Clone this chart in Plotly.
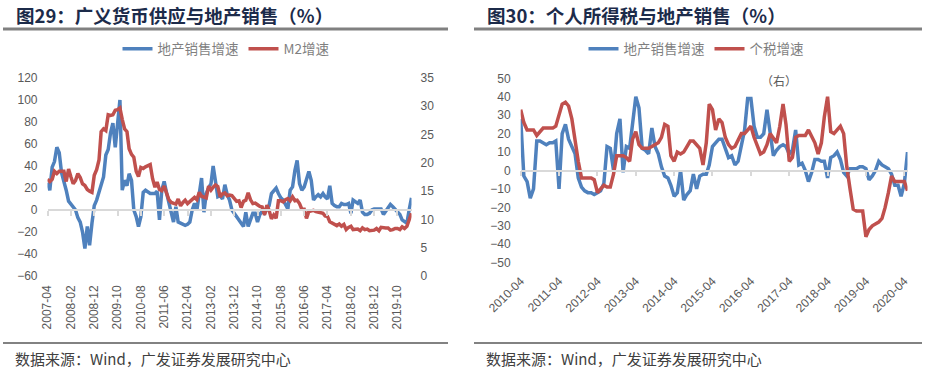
import pandas as pd
import plotly.graph_objects as go

W, H = 925, 371

# ---------------- data: left chart (2007-04 .. 2020-04, monthly) ----------------
left_dates = pd.date_range("2007-04-01", periods=157, freq="MS")
sales_growth_left = [
    25, 18, 39, 44, 57, 52, 34, 27, 18, 8, 5, 3,
    0, -7, -11, -20, -35, -15, -32, -12, 4, 9, 16, 22,
    30, 50, 55, 70, 79, 57, 82, 100, 18, 27, 22, 33,
    27, 0, -6, -15, -6, 16, 18, 16, 15, 15, 15, 17,
    -9, 18, 26, 16, 6, -3, -11, 3, -11, -12, -13, -14,
    -13, -11, 0, 6, 0, 15, 29, -2, 15, 20, 24, 40,
    28, 12, 13, 10, 23, 14, 9, 0, -3, -6, -8, -11,
    -15, -2, -15, -9, -3, -3, -11, -4, -1, -3, 1, 4,
    15, 18, 20, 15, 11, 9, 5, 1, 18, 21, 36, 45,
    24, 18, 21, 27, 35, 27, 9, 12, 14, 12, 15, 12,
    10, 22, 6, 4, 3, 3, 6, 5, 5, 6, -3, 9,
    7, 6, 9, -2, -4, -4, -3, 0, 1, 1, 1, 1,
    -4, -1, 3, 5, 3, 1, -1, -4, -9, -11, -12, 0,
    11,
]
m2_growth = [
    17.1, 16.7, 17.1, 18.5, 18.1, 18.5, 18.5, 18.5, 16.7,
    18.9, 17.5, 16.3, 16.9, 18.1, 17.4, 16.3, 16.0, 15.3, 15.0, 14.8, 17.8,
    18.8, 20.5, 25.5, 26.0, 25.7, 28.5, 28.4, 28.5, 29.3, 29.4, 29.7, 27.7,
    26.0, 25.5, 22.5, 21.5, 21.0, 18.5, 17.6, 19.2, 19.0, 19.3, 19.5, 19.7,
    17.2, 15.7, 16.6, 15.3, 15.1, 15.9, 14.7, 13.5, 13.0, 12.9, 12.7, 13.6,
    12.4, 13.0, 13.4, 12.8, 13.2, 13.6, 13.9, 13.5, 14.8, 14.1, 13.9, 13.8,
    15.9, 15.2, 15.7, 16.1, 15.8, 14.0, 14.5, 14.7, 14.2, 14.3, 14.2, 13.6,
    13.2, 13.3, 12.1, 13.2, 13.4, 14.7, 13.5, 12.8, 12.9, 12.6, 12.3, 12.2,
    10.8, 12.5, 11.6, 10.1, 10.8, 10.2, 13.3, 13.3, 13.1, 13.5, 13.7, 13.3,
    14.0, 13.3, 13.4, 12.8, 11.8, 11.8, 10.2, 11.4, 11.5, 11.6, 11.4, 11.3,
    11.3, 11.1, 10.6, 10.5, 9.6, 9.4, 9.2, 8.9, 9.2, 8.8, 9.1, 8.2,
    8.6, 8.8, 8.2, 8.3, 8.3, 8.0, 8.5, 8.2, 8.3, 8.0, 8.0, 8.1,
    8.4, 8.0, 8.6, 8.5, 8.5, 8.5, 8.1, 8.2, 8.4, 8.4, 8.2, 8.7,
    8.4, 8.8, 10.1, 11.1,
]

# ---------------- data: right chart (2010-04 .. 2020-05, monthly) ----------------
right_dates = pd.date_range("2010-04-01", periods=122, freq="MS")
sales_growth_right = [
    28, -3, -6, -15, -10, 16, 16, 15, 14, 15, 15, 16,
    -10, 20, 25, 17, 13, 9, -4, -9, -11, -12, -12, -13,
    -12, -11, -7, 13, 12, 0, 20, 28, -1, 13, 12, 24,
    40, 34, 12, 11, 9, 23, 13, 9, 2, -3, -4, -8,
    -14, -12, 0, -16, -13, -11, -2, -10, -3, -2, -2, 3,
    13, 15, 17, 17, 12, 7, 8, 3, 5, 13, 22, 39,
    39, 24, 18, 18, 20, 33, 20, 8, 11, 13, 14, 13,
    9, 11, 22, 3, 4, 0, -6, -1, 6, 6, 5, 5,
    -4, 7, 8, 10, 6, -1, -3, 1, 1, 1, 2, 2,
    1, -5, -3, 0, 5, 3, 2, 1, -2, -8, -8, -14,
    -7, 10,
]
income_tax_growth = [
    33, 26, 22, 22, 22, 19, 21, 23, 23, 23, 23, 24,
    31, 36, 37, 35, 28, 16, 5, -4, -4, -4, -4, -5,
    -12, -10, -8, -9, -9, -2, 8, 8, 8, 7, 5, 17,
    21, 14, 12, 12, 12, 13, 14, 15, 18, 25, 24, 8,
    5, 10, 9, 10, 13, 16, 16, 14, 12, 3, 15, 36,
    33, 22, 28, 26, 18, 14, 12, 13, 16, 20, 20, 22,
    24, 18, 14, 9, 10, 14, 20, 17, 15, 24, 36, 25,
    5, 7, 18, 19, 19, 19, 22, 18, 15, 9, 15, 29,
    40, 21, 20, 22, 24, 20, 2, -10, -21, -22, -22, -22,
    -36, -32, -30, -29, -28, -26, -20, -12, -3, -6, -6, -6,
    -6, -11,
]

# ---------------- text ----------------
title_left = "图29：广义货币供应与地产销售（%）"
title_right = "图30：个人所得税与地产销售（%）"
source_text = "数据来源：Wind，广发证券发展研究中心"
name_sales = "地产销售增速"
name_m2 = "M2增速"
name_tax = "个税增速"
note_right = "（右）"

BLUE = "#4F81BD"
RED = "#C0504D"
TICK_FONT = dict(family="Liberation Sans, Arial, sans-serif", size=12, color="#595959")
CJK = "Noto Sans CJK SC"


def px_x(p):
    return p / W


def px_y(p):
    return 1 - p / H


fig = go.Figure()

# left chart
fig.add_trace(go.Scatter(x=left_dates, y=sales_growth_left, name=name_sales, mode="lines",
                         line=dict(color=BLUE, width=3.5), xaxis="x", yaxis="y", legend="legend"))
fig.add_trace(go.Scatter(x=left_dates, y=m2_growth, name=name_m2, mode="lines",
                         line=dict(color=RED, width=3.5), xaxis="x", yaxis="y2", legend="legend"))
# invisible helper so the zero-line axis with tick marks is drawn
fig.add_trace(go.Scatter(x=left_dates, y=m2_growth, mode="lines", line=dict(width=0),
                         opacity=0, showlegend=False, hoverinfo="skip", xaxis="x3", yaxis="y2"))

# right chart
fig.add_trace(go.Scatter(x=right_dates, y=sales_growth_right, name=name_sales, mode="lines",
                         line=dict(color=BLUE, width=3.5), xaxis="x2", yaxis="y3", legend="legend2"))
fig.add_trace(go.Scatter(x=right_dates, y=income_tax_growth, name=name_tax, mode="lines",
                         line=dict(color=RED, width=3.5), xaxis="x2", yaxis="y3", legend="legend2"))
fig.add_trace(go.Scatter(x=right_dates, y=income_tax_growth, mode="lines", line=dict(width=0),
                         opacity=0, showlegend=False, hoverinfo="skip", xaxis="x4", yaxis="y3"))

left_dom_x = [px_x(47.5), px_x(411.5)]
left_dom_y = [px_y(276), px_y(78)]
right_dom_x = [px_x(520.7), px_x(907.5)]
right_dom_y = [px_y(262.7), px_y(78.3)]

left_range = ["2007-04-01", "2020-04-01"]
right_range = ["2010-04-01", "2020-05-01"]

common = dict(automargin=False, showgrid=False, zeroline=False)

fig.update_layout(
    template="none",
    width=W, height=H,
    margin=dict(l=0, r=0, t=0, b=0, autoexpand=False),
    paper_bgcolor="white", plot_bgcolor="rgba(0,0,0,0)",
    showlegend=True,
    xaxis=dict(domain=left_dom_x, anchor="y", range=left_range, type="date",
               tick0="2007-04-01", dtick="M10", tickformat="%Y-%m", tickangle=-90,
               showline=False, ticks="", tickfont=TICK_FONT, ticklabelstandoff=6, **common),
    xaxis3=dict(overlaying="x", anchor="free", position=px_y(210), range=left_range, type="date",
                tick0="2007-04-01", dtick="M10", showticklabels=False,
                showline=True, linecolor="#D9D9D9", linewidth=1.5,
                ticks="outside", ticklen=5, tickcolor="#D9D9D9", tickwidth=1.5, **common),
    yaxis=dict(domain=left_dom_y, anchor="x", range=[-60, 120], dtick=20,
               showline=False, ticks="", tickfont=TICK_FONT, ticklabelstandoff=9, **common),
    yaxis2=dict(overlaying="y", side="right", anchor="x", range=[0, 35], dtick=5,
                showline=False, ticks="", tickfont=TICK_FONT, ticklabelstandoff=8, **common),
    xaxis2=dict(domain=right_dom_x, anchor="y3", range=right_range, type="date",
                tick0="2010-04-01", dtick="M12", tickformat="%Y-%m", tickangle=-45,
                showline=False, ticks="", tickfont=TICK_FONT, ticklabelstandoff=8, **common),
    xaxis4=dict(overlaying="x2", anchor="free", position=px_y(170.5), range=right_range, type="date",
                tick0="2010-04-01", dtick="M12", showticklabels=False,
                showline=True, linecolor="#D9D9D9", linewidth=1.5,
                ticks="outside", ticklen=5, tickcolor="#D9D9D9", tickwidth=1.5, **common),
    yaxis3=dict(domain=right_dom_y, anchor="x2", range=[-50, 50], dtick=10,
                showline=False, ticks="", tickfont=TICK_FONT, ticklabelstandoff=9, **common),
    legend=dict(orientation="h", x=px_x(226), y=px_y(49), xanchor="center", yanchor="middle",
                font=dict(family=CJK, size=13.5, color="#7F7F7F"), bgcolor="rgba(0,0,0,0)",
                borderwidth=0, itemwidth=30, tracegroupgap=0),
    legend2=dict(orientation="h", x=px_x(696), y=px_y(49), xanchor="center", yanchor="middle",
                 font=dict(family=CJK, size=13.5, color="#7F7F7F"), bgcolor="rgba(0,0,0,0)",
                 borderwidth=0, itemwidth=30, tracegroupgap=0),
)

# titles, separators, sources
for x0, x1, tx, title in [(3, 448, 14, title_left), (474, 922, 485, title_right)]:
    fig.add_shape(type="line", xref="paper", yref="paper", x0=px_x(x0), x1=px_x(x1),
                  y0=px_y(29), y1=px_y(29), line=dict(color="#808080", width=3))
    fig.add_shape(type="line", xref="paper", yref="paper", x0=px_x(x0), x1=px_x(x1),
                  y0=px_y(343), y1=px_y(343), line=dict(color="#595959", width=1.5))
    fig.add_annotation(xref="paper", yref="paper", x=px_x(tx), y=px_y(15), xanchor="left",
                       yanchor="middle", showarrow=False, text="<b>" + title + "</b>",
                       font=dict(family=CJK, size=18.5, color="#1C2B4A"))
    fig.add_annotation(xref="paper", yref="paper", x=px_x(tx - 1), y=px_y(358), xanchor="left",
                       yanchor="middle", showarrow=False, text=source_text,
                       font=dict(family=CJK, size=15, color="#404040"))

fig.add_annotation(xref="paper", yref="paper", x=px_x(779), y=px_y(80), xanchor="center",
                   yanchor="middle", showarrow=False, text=note_right,
                   font=dict(family=CJK, size=12, color="#595959"))

fig.write_html(
    "out.html",
    config={"displayModeBar": False},
    post_script="document.body.style.margin='0';document.body.style.overflow='hidden';",
)
